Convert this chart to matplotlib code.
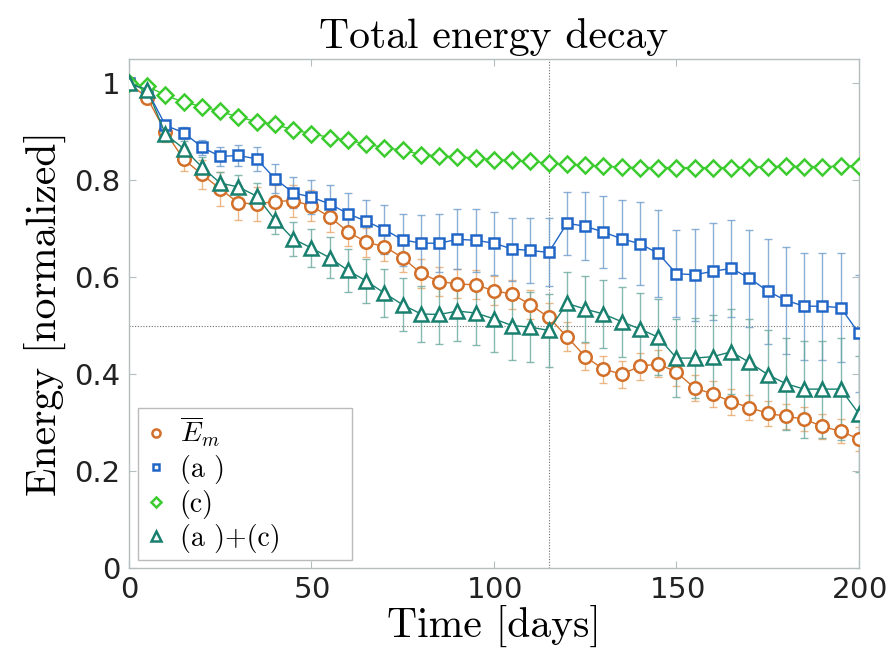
import numpy as np
import matplotlib
matplotlib.use("Agg")
import matplotlib.pyplot as plt

plt.rcParams["mathtext.fontset"] = "cm"
plt.rcParams["axes.formatter.use_mathtext"] = True

days = list(range(0, 201, 5))

energy_mean = [1.000, 0.970, 0.899, 0.843, 0.812, 0.782, 0.753, 0.751, 0.756, 0.758,
               0.747, 0.724, 0.694, 0.672, 0.663, 0.640, 0.608, 0.591, 0.586, 0.584,
               0.572, 0.565, 0.543, 0.517, 0.477, 0.436, 0.410, 0.400, 0.416, 0.421,
               0.404, 0.371, 0.359, 0.343, 0.331, 0.319, 0.313, 0.307, 0.292, 0.282,
               0.266]
energy_mean_err = [0.000, 0.010, 0.020, 0.025, 0.030, 0.035, 0.035, 0.035, 0.035, 0.033,
                   0.032, 0.030, 0.030, 0.030, 0.030, 0.030, 0.030, 0.030, 0.030, 0.030,
                   0.030, 0.030, 0.030, 0.030, 0.030, 0.028, 0.028, 0.028, 0.028, 0.028,
                   0.028, 0.027, 0.027, 0.027, 0.026, 0.026, 0.026, 0.025, 0.025, 0.025,
                   0.025]

case_a = [1.000, 0.985, 0.913, 0.898, 0.868, 0.849, 0.851, 0.844, 0.803, 0.774,
          0.765, 0.751, 0.731, 0.715, 0.698, 0.677, 0.670, 0.670, 0.678, 0.676,
          0.670, 0.658, 0.655, 0.651, 0.711, 0.705, 0.693, 0.679, 0.669, 0.649,
          0.607, 0.605, 0.612, 0.618, 0.598, 0.571, 0.552, 0.540, 0.540, 0.537,
          0.484]
case_a_err = [0.000, 0.005, 0.010, 0.012, 0.015, 0.020, 0.022, 0.025, 0.030, 0.032,
              0.035, 0.040, 0.042, 0.045, 0.050, 0.054, 0.058, 0.060, 0.062, 0.065,
              0.065, 0.065, 0.068, 0.070, 0.065, 0.070, 0.075, 0.080, 0.085, 0.090,
              0.090, 0.095, 0.100, 0.100, 0.100, 0.108, 0.110, 0.110, 0.110, 0.112,
              0.120]

case_c = [1.000, 0.994, 0.975, 0.961, 0.952, 0.942, 0.930, 0.921, 0.915, 0.904,
          0.896, 0.888, 0.882, 0.875, 0.867, 0.862, 0.853, 0.850, 0.848, 0.846,
          0.842, 0.841, 0.839, 0.835, 0.833, 0.831, 0.829, 0.827, 0.826, 0.826,
          0.826, 0.826, 0.826, 0.826, 0.827, 0.828, 0.829, 0.828, 0.828, 0.829,
          0.830]

case_ac = [1.000, 0.987, 0.895, 0.865, 0.827, 0.794, 0.786, 0.767, 0.718, 0.679,
           0.660, 0.640, 0.614, 0.592, 0.567, 0.543, 0.524, 0.523, 0.530, 0.526,
           0.514, 0.500, 0.497, 0.490, 0.546, 0.534, 0.524, 0.508, 0.493, 0.476,
           0.433, 0.433, 0.436, 0.446, 0.424, 0.399, 0.380, 0.369, 0.369, 0.369,
           0.318]
case_ac_err = [0.000, 0.005, 0.010, 0.015, 0.020, 0.022, 0.025, 0.027, 0.030, 0.035,
               0.040, 0.042, 0.044, 0.046, 0.050, 0.055, 0.058, 0.060, 0.062, 0.065,
               0.068, 0.070, 0.072, 0.075, 0.065, 0.068, 0.070, 0.072, 0.075, 0.078,
               0.080, 0.082, 0.085, 0.088, 0.090, 0.092, 0.095, 0.100, 0.100, 0.105,
               0.120]

labels = [r"$\overline{E}_m$", "(a )", "(c)", "(a )+(c)"]

c_orange = "#D2702A"
c_blue = "#2166C6"
c_green = "#3CCB2F"
c_teal = "#19806F"

fig = plt.figure(figsize=(8.92, 6.63), dpi=100)
ax = fig.add_axes([0.1446, 0.1433, 0.8184, 0.7677])

serif = "cmr10"
frame_col = "#B4BEBE"

# error bars first, in lighter tints
for y, e, col in [(energy_mean, energy_mean_err, "#E8A66A"),
                  (case_a, case_a_err, "#6E9CCB"),
                  (case_ac, case_ac_err, "#6AA89E")]:
    ax.errorbar(days, y, yerr=e, fmt="none", ecolor=col, elinewidth=1.0,
                capsize=3, capthick=1.0, alpha=0.8, zorder=1)

ax.plot(days, energy_mean, "-o", color=c_orange, lw=1.0, ms=9, mfc="white",
        mec=c_orange, mew=1.8, label=labels[0], zorder=3)
ax.plot(days, case_a, "-s", color=c_blue, lw=1.0, ms=7, mfc="white",
        mec=c_blue, mew=1.8, label=labels[1], zorder=3)
ax.plot(days, case_c, "-D", color=c_green, lw=1.0, ms=8, mfc="white",
        mec=c_green, mew=1.8, label=labels[2], zorder=3)
ax.plot(days, case_ac, "-^", color=c_teal, lw=1.0, ms=10, mfc="white",
        mec=c_teal, mew=1.8, label=labels[3], zorder=4)

ax.axvline(115, color="#707070", lw=0.8, ls=(0, (1, 1.5)), zorder=0)
ax.axhline(0.5, color="#707070", lw=0.8, ls=(0, (1, 1.5)), zorder=0)

ax.set_xlim(0, 200)
ax.set_ylim(0, 1.05)
ax.set_xticks([0, 50, 100, 150, 200])
ax.set_yticks([0, 0.2, 0.4, 0.6, 0.8, 1.0])
ax.set_yticklabels(["0", "0.2", "0.4", "0.6", "0.8", "1"])
ax.tick_params(direction="in", top=True, right=True, length=5, width=0.8,
               color=frame_col, labelsize=21, labelcolor="#222222", pad=6)
for sp in ax.spines.values():
    sp.set_color(frame_col)
    sp.set_linewidth(1.0)

ax.set_title("Total energy decay", family=serif, fontsize=30, pad=8)
ax.set_xlabel("Time [days]", family=serif, fontsize=30, labelpad=0)
ax.set_ylabel("Energy [normalized]", family=serif, fontsize=30, labelpad=6)

leg = ax.legend(loc="lower left", bbox_to_anchor=(0.0123, 0.0157, 0.293, 0.3),
                mode="expand", frameon=True,
                fancybox=False, edgecolor="#AAAAAA", handlelength=0.8,
                handletextpad=0.45, labelspacing=0.2, borderpad=0.25,
                borderaxespad=0.0,
                prop={"family": serif, "size": 20}, markerscale=0.65)
for line in leg.get_lines():
    line.set_linestyle("none")
leg.get_frame().set_linewidth(1.0)

fig.savefig("out.png", dpi=100)
